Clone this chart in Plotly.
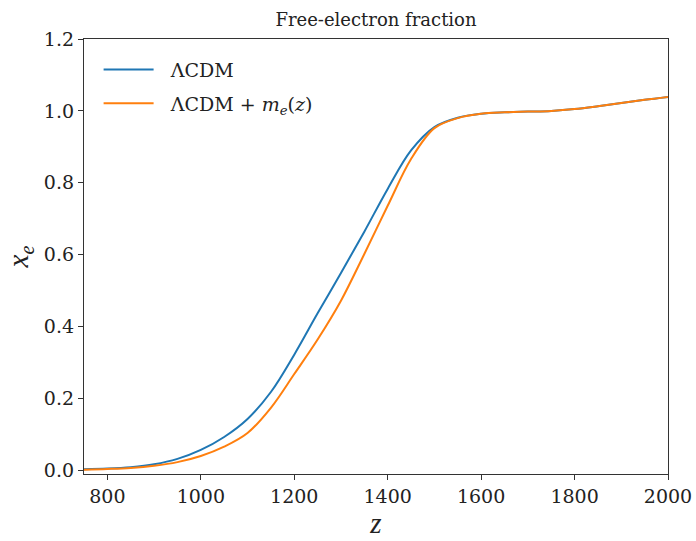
import plotly.graph_objects as go

z_vals = [750, 800, 850, 900, 950, 1000, 1050, 1100, 1150, 1200, 1250, 1300, 1350,
          1400, 1450, 1500, 1550, 1600, 1650, 1700, 1750, 1800, 1850, 1900, 1950, 2000]
xe_lcdm = [0.003, 0.005, 0.009, 0.017, 0.032, 0.057, 0.093, 0.143, 0.218, 0.322, 0.437,
           0.549, 0.664, 0.783, 0.89, 0.955, 0.981, 0.992, 0.996, 0.998, 1.0, 1.005,
           1.013, 1.022, 1.031, 1.039]
xe_me = [0.002, 0.004, 0.007, 0.013, 0.023, 0.04, 0.066, 0.104, 0.174, 0.268, 0.364,
         0.472, 0.602, 0.736, 0.866, 0.952, 0.98, 0.992, 0.996, 0.998, 1.0, 1.005,
         1.013, 1.022, 1.031, 1.039]

x_ticks = [800, 1000, 1200, 1400, 1600, 1800, 2000]
y_ticks = [0.0, 0.2, 0.4, 0.6, 0.8, 1.0, 1.2]

FONT = "DejaVu Serif"
MATH = "Liberation Serif"
TXT = "#222222"

fig = go.Figure()
fig.add_trace(go.Scatter(x=z_vals, y=xe_lcdm, mode="lines", name="&#160;&#160;ΛCDM",
                         legendgroup="a",
                         line=dict(color="#1f77b4", width=2, shape="spline", smoothing=1.0)))
fig.add_trace(go.Scatter(x=z_vals, y=xe_me, mode="lines",
                         name="&#160;&#160;ΛCDM + <i>m</i><sub><i>e</i></sub>(<i>z</i>)",
                         legendgroup="b",
                         line=dict(color="#ff7f0e", width=2, shape="spline", smoothing=1.0)))

axis_common = dict(showline=True, linecolor="#333333", linewidth=1.3, mirror=True,
                   ticks="outside", ticklen=5, tickcolor="#333333", tickwidth=1.2,
                   showgrid=False, zeroline=False, automargin=False,
                   tickfont=dict(family=FONT, size=19, color=TXT))

fig.update_layout(
    width=696, height=541,
    margin=dict(l=84, r=28, t=39, b=67),
    plot_bgcolor="white", paper_bgcolor="white",
    title=dict(text="Free-electron fraction", x=0.5, xanchor="center", xref="paper",
               y=1 - 20 / 541, yanchor="middle",
               font=dict(family=FONT, size=18, color=TXT)),
    xaxis=dict(range=[750, 2000], tickvals=x_ticks,
               ticktext=[str(v) for v in x_ticks],
               title=dict(text="<i>z</i>", font=dict(family=MATH, size=29, color=TXT),
                          standoff=4),
               **axis_common),
    yaxis=dict(range=[-0.01, 1.2], tickvals=y_ticks,
               ticktext=[f"{v:.1f}" for v in y_ticks],
               title=dict(text="<i>x</i><sub><i>e</i></sub>",
                          font=dict(family=MATH, size=29, color=TXT), standoff=6),
               **axis_common),
    legend=dict(x=0.025, y=0.973, xanchor="left", yanchor="top",
                bgcolor="rgba(255,255,255,0)", borderwidth=0,
                font=dict(family=FONT, size=19, color=TXT),
                itemwidth=50, tracegroupgap=6),
    showlegend=True,
)

fig.write_html("out.html")
